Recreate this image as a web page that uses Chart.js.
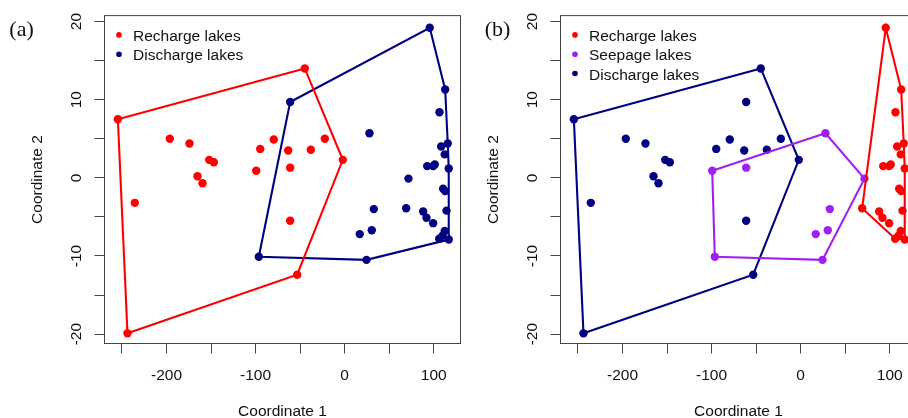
<!DOCTYPE html>
<html>
<head>
<meta charset="utf-8">
<script src="https://cdn.jsdelivr.net/npm/chart.js@4.4.1/dist/chart.umd.min.js"></script>
<style>
  html, body { margin: 0; padding: 0; background: #fff; }
  body { width: 908px; height: 418px; overflow: hidden; position: relative; }
  canvas { position: absolute; top: 0; }
  #chartA { left: 0; }
  #chartB { left: 456px; }
</style>
</head>
<body>
<canvas id="chartA" width="470" height="430"></canvas>
<canvas id="chartB" width="470" height="430"></canvas>
<script>
// lake coordinates (same lakes in both panels)
const coord1 = [
  -254.6, -44.8, -2.1, -53.3, -243.8, -196.3, -174.2, -152.1, -146.9, -165.2,
  -159.6, -235.6, -99.3, -94.8, -79.6, -63.4, -61.2, -38.0, -22.3, -61.2,
  95.5, 112.8, 115.7, 116.8, 114.3, 116.8, 106.1, 24.5, -96.4, -61.2,
  106.4, 27.8, 108.3, 112.3, 92.6, 99.3, 101.1, 71.6, 110.5, 112.8,
  32.7, 69.0, 88.1, 91.8, 99.3, 30.4, 16.9, 112.3, 109.8
];
const coord2 = [
  7.5, 14.0, 2.3, -12.4, -19.9, 5.0, 4.4, 2.3, 2.0, 0.2,
  -0.7, -3.2, 0.9, 3.7, 4.9, 3.5, 1.3, 3.6, 5.0, -5.5,
  19.2, 11.3, 4.4, 1.2, -4.2, -7.9, -7.8, -10.5, -10.1, 9.7,
  8.4, 5.7, 4.0, 3.0, 1.5, 1.5, 1.7, -0.1, -1.4, -1.7,
  -4.0, -3.9, -4.3, -5.1, -5.8, -6.7, -7.2, -6.8, -7.4
];

// group of each lake: R = recharge, S = seepage, D = discharge
const groupA = [
  "R","R","R","R","R","R","R","R","R","R",
  "R","R","R","R","R","R","R","R","R","R",
  "D","D","D","D","D","D","D","D","D","D",
  "D","D","D","D","D","D","D","D","D","D",
  "D","D","D","D","D","D","D","D","D"
];
const groupB = [
  "D","D","D","D","D","D","D","D","D","D",
  "D","D","S","D","D","D","S","D","D","D",
  "R","R","R","R","R","R","R","S","S","D",
  "R","S","R","R","R","R","R","S","R","R",
  "S","R","R","R","R","S","S","R","R"
];

const groupsA = ["R", "D"];
const groupsB = ["R", "S", "D"];
const groupNames = { R: "Recharge lakes", S: "Seepage lakes", D: "Discharge lakes" };
const groupColors = { R: "#ff0000", S: "#a020f0", D: "#000080" };

const xTicks = [-250, -200, -150, -100, -50, 0, 50, 100];
const xTickLabels = ["", "-200", "", "-100", "", "0", "", "100"];
const yTicks = [-20, -15, -10, -5, 0, 5, 10, 15, 20];
const yTickLabels = ["-20", "", "-10", "", "0", "", "10", "", "20"];

const textFont = { family: "'Liberation Sans', Arial, sans-serif", size: 15.5 };
const axisColor = "#444";
const textColor = "#111";

// convex hull (monotone chain), closed for drawing
function hull(pts) {
  const p = pts.slice().sort((a, b) => a.x - b.x || a.y - b.y);
  const cross = (o, a, b) => (a.x - o.x) * (b.y - o.y) - (a.y - o.y) * (b.x - o.x);
  const lower = [];
  for (const q of p) {
    while (lower.length >= 2 && cross(lower[lower.length - 2], lower[lower.length - 1], q) <= 0) lower.pop();
    lower.push(q);
  }
  const upper = [];
  for (let i = p.length - 1; i >= 0; i--) {
    const q = p[i];
    while (upper.length >= 2 && cross(upper[upper.length - 2], upper[upper.length - 1], q) <= 0) upper.pop();
    upper.push(q);
  }
  const h = lower.slice(0, -1).concat(upper.slice(0, -1));
  h.push(h[0]);
  return h;
}

function buildDatasets(groups, order) {
  const sets = [];
  order.forEach(g => {
    const pts = [];
    coord1.forEach((x, i) => { if (groups[i] === g) pts.push({ x: x, y: coord2[i] }); });
    sets.push({
      label: groupNames[g] + " hull",
      data: hull(pts),
      showLine: true,
      borderColor: groupColors[g],
      borderWidth: 2.1,
      pointRadius: 0,
      fill: false,
      tension: 0
    });
    sets.push({
      label: groupNames[g],
      data: pts,
      pointRadius: 4.2,
      pointBackgroundColor: groupColors[g],
      pointBorderWidth: 0,
      showLine: false
    });
  });
  return sets;
}

// box around the plot region
const frameBox = {
  id: "frameBox",
  afterDraw(chart) {
    const { ctx, chartArea: a } = chart;
    ctx.save();
    ctx.strokeStyle = axisColor;
    ctx.lineWidth = 1;
    ctx.strokeRect(a.left, a.top, a.right - a.left, a.bottom - a.top);
    ctx.restore();
  }
};

// R-style legend in the top left corner, plus the panel tag
const lakeLegend = {
  id: "lakeLegend",
  afterDraw(chart, args, opts) {
    const { ctx, chartArea: a } = chart;
    ctx.save();
    opts.groups.forEach((g, i) => {
      const cy = a.top + 19.3 + i * 19.3;
      ctx.fillStyle = groupColors[g];
      ctx.beginPath();
      ctx.arc(a.left + 14.5, cy, 2.8, 0, Math.PI * 2);
      ctx.fill();
      ctx.fillStyle = textColor;
      ctx.font = textFont.size + "px " + textFont.family;
      ctx.textBaseline = "middle";
      ctx.textAlign = "left";
      ctx.fillText(groupNames[g], a.left + 28.5, cy + 1.8);
    });
    ctx.font = "22px 'Liberation Serif', 'Times New Roman', serif";
    ctx.textBaseline = "alphabetic";
    ctx.fillStyle = textColor;
    ctx.fillText(opts.tag, opts.tagX, 35.5);
    ctx.restore();
  }
};

function makeChart(id, groups, order, tag, tagX) {
  return new Chart(document.getElementById(id), {
    type: "scatter",
    data: { datasets: buildDatasets(groups, order) },
    options: {
      responsive: false,
      animation: false,
      devicePixelRatio: 1,
      layout: { padding: { top: 14.5, right: 9.5, left: 0, bottom: 0 } },
      plugins: {
        legend: { display: false },
        tooltip: { enabled: false },
        lakeLegend: { groups: order, tag: tag, tagX: tagX }
      },
      scales: {
        x: {
          type: "linear",
          min: -269.6,
          max: 130,
          afterFit: s => { s.height = 86.5; },
          afterBuildTicks: s => { s.ticks = xTicks.map(v => ({ value: v })); },
          ticks: {
            callback: v => xTickLabels[xTicks.indexOf(v)],
            autoSkip: false,
            maxRotation: 0,
            padding: 13,
            font: textFont,
            color: textColor
          },
          grid: { drawOnChartArea: false, drawTicks: true, tickLength: 10, color: axisColor },
          border: { display: false },
          title: { display: true, text: "Coordinate 1", font: textFont, color: textColor, padding: { top: 0, bottom: 8.7 } }
        },
        y: {
          type: "linear",
          min: -21.2,
          max: 20.76,
          afterFit: s => { s.width = 104.5; },
          afterBuildTicks: s => { s.ticks = yTicks.map(v => ({ value: v })); },
          ticks: {
            callback: v => yTickLabels[yTicks.indexOf(v)],
            autoSkip: false,
            minRotation: 90,
            maxRotation: 90,
            crossAlign: "center",
            padding: 6.3,
            font: textFont,
            color: textColor
          },
          grid: { drawOnChartArea: false, drawTicks: true, tickLength: 10, color: axisColor },
          border: { display: false },
          title: { display: true, text: "Coordinate 2", font: textFont, color: textColor, padding: { top: 28.7, bottom: 0 } }
        }
      }
    },
    plugins: [frameBox, lakeLegend]
  });
}

makeChart("chartA", groupA, groupsA, "(a)", 9.3);
makeChart("chartB", groupB, groupsB, "(b)", 28.7);
</script>
</body>
</html>
